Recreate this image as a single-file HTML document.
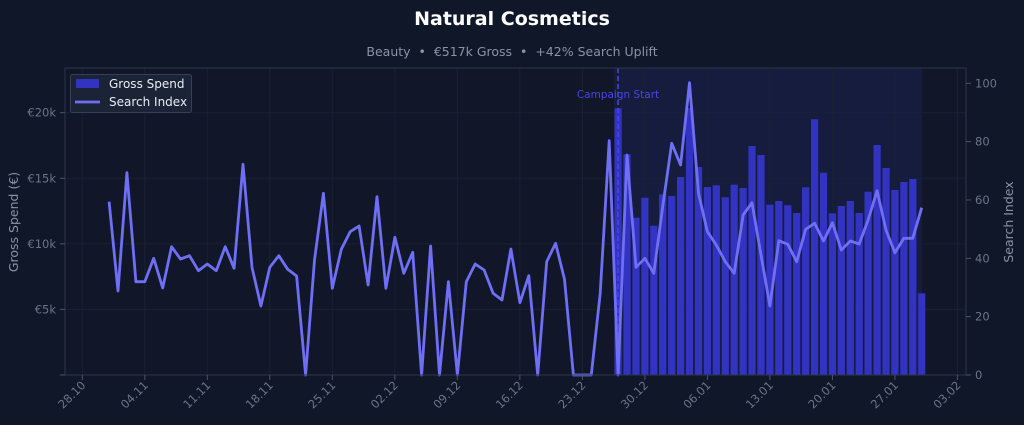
<!DOCTYPE html>
<html><head><meta charset="utf-8"><style>
html,body{margin:0;padding:0;background:#0f1729;}
svg{display:block;font-family:"DejaVu Sans","Liberation Sans",sans-serif;}
</style></head><body>
<svg id="s" width="1024" height="425" viewBox="0 0 1024 425" xmlns="http://www.w3.org/2000/svg">
<rect width="1024" height="425" fill="#0f1729"/>
<rect x="65" y="68" width="901" height="307" fill="#111729"/>
<rect x="614" y="68" width="308" height="307" fill="#151c3e"/>
<g id="grid" stroke="#182134" stroke-width="1"></g>
<g id="bars" fill="#3333c2"></g>
<line x1="618" y1="68" x2="618" y2="375" stroke="#4a45e6" stroke-width="1.5" stroke-dasharray="5,3"/>
<polyline id="ln" fill="none" stroke="#6f6ff5" stroke-width="2.8" stroke-linejoin="round"/>
<rect x="65" y="68" width="901" height="307" fill="none" stroke="#2c3549" stroke-width="1"/>
<g id="ticks" stroke="#4b5568" stroke-width="1"></g>
<g id="lbl" fill="#6b7488" font-size="11.5"></g>
<text x="618" y="98" fill="#4a45e6" font-size="10.5" text-anchor="middle">Campaign Start</text>
<text x="512" y="25" fill="#ffffff" font-size="19" font-weight="bold" text-anchor="middle">Natural Cosmetics</text>
<text x="512" y="56" fill="#8a93a6" font-size="12.5" text-anchor="middle">Beauty &#160;•&#160; €517k Gross &#160;•&#160; +42% Search Uplift</text>
<text transform="translate(18,222) rotate(-90)" fill="#8a93a6" font-size="12.5" text-anchor="middle">Gross Spend (€)</text>
<text transform="translate(1013,222) rotate(-90)" fill="#8a93a6" font-size="12.5" text-anchor="middle">Search Index</text>
<rect x="70.5" y="74.5" width="121" height="38" rx="2" fill="#1b2436" stroke="#34405a"/>
<rect x="76" y="79" width="23" height="9" fill="#3333c2"/>
<line x1="75" y1="102" x2="100" y2="102" stroke="#6f6ff5" stroke-width="2.8"/>
<text x="109" y="88" fill="#e8ecf2" font-size="12">Gross Spend</text>
<text x="109" y="106" fill="#e8ecf2" font-size="12">Search Index</text>
</svg>
<script>
var ns="http://www.w3.org/2000/svg";
function el(p,t,a,txt){var e=document.createElementNS(ns,t);for(var k in a)e.setAttribute(k,a[k]);if(txt)e.textContent=txt;document.getElementById(p).appendChild(e);}
var X0=82.3,D=8.93;
var ly=[201.7,291,172.7,281.7,281.7,258.3,288,246.7,259,255.7,270.7,264,270.7,246.7,268.3,164.3,267.3,306,267.3,255.7,269.3,276,375,260,193.3,288.3,249.3,231.7,226,285,196.7,288.3,237.3,273.3,252.3,375,246,375,281.7,375,281.7,264,270,293.3,300,249,302.7,275.7,375,261.7,243.3,279.3,375,375,375,293.3,140.7,375,155,267.3,258.3,273.3,206.7,143.3,165,82.7,193.3,231.7,245,261.7,273.3,215,202.7,255,306,240.7,244.3,261.7,229.3,223.3,241,222.7,250,241,244,220,190.7,230,252.7,238.3,238.3,207.7];
var pts=ly.map(function(y,i){return (X0+(i+3)*D).toFixed(1)+","+y;}).join(" ");
document.getElementById("ln").setAttribute("points",pts);
var by=[108.3,154.3,217.7,197.7,225.7,194.3,196,177,108,167,187,185.3,197.3,184.7,188,146,155,204.7,201,205.3,213,187.3,119.3,172.7,213.3,206,201,213,191.7,145,168,190,182,179,293.3];
by.forEach(function(y,i){var cx=X0+(60+i)*D;el("bars","rect",{x:(cx-3.6).toFixed(1),y:y,width:7.2,height:(375-y).toFixed(1)});});
var dl=["28.10","04.11","11.11","18.11","25.11","02.12","09.12","16.12","23.12","30.12","06.01","13.01","20.01","27.01","03.02"];
dl.forEach(function(t,i){var x=X0+i*7*D;el("grid","line",{x1:x,y1:68,x2:x,y2:375});el("ticks","line",{x1:x,y1:375,x2:x,y2:380});
el("lbl","text",{transform:"translate("+(x+4)+",386) rotate(-45)","text-anchor":"end"},t);});
[5,10,15,20].forEach(function(v){var y=375-v*13.115;el("grid","line",{x1:65,y1:y,x2:966,y2:y});el("ticks","line",{x1:60,y1:y,x2:65,y2:y});
el("lbl","text",{x:56,y:y+4,"text-anchor":"end"},"€"+v+"k");});
el("ticks","line",{x1:60,y1:375,x2:65,y2:375});
[0,20,40,60,80,100].forEach(function(v){var y=375-v*2.917;el("ticks","line",{x1:966,y1:y,x2:971,y2:y});el("lbl","text",{x:975,y:y+4},""+v);});
</script>
</body></html>
